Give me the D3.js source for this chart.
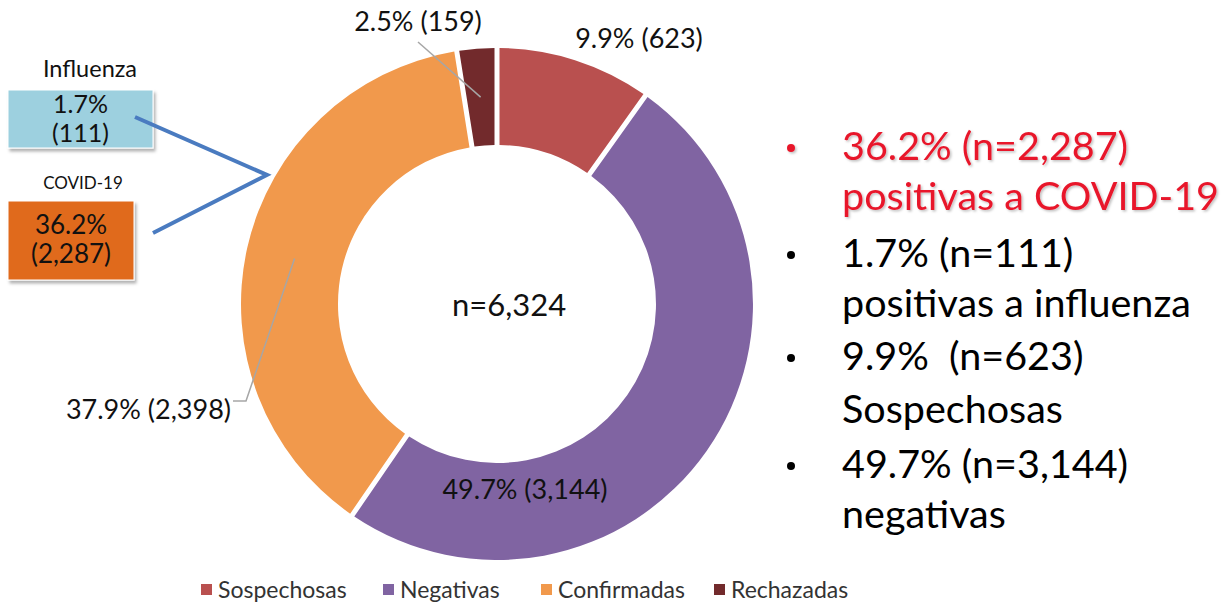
<!DOCTYPE html>
<html lang="es">
<head>
<meta charset="UTF-8" />
<title>Resultados de muestras</title>
<script src="https://cdn.jsdelivr.net/npm/d3@7"></script>
<style>
  body { margin: 0; background: #fff; }
  text { font-family: Lato, "Open Sans", sans-serif; white-space: pre; }
</style>
</head>
<body>
<svg id="chart" width="1223" height="604"></svg>
<script>
  // data
  const categories = ["Sospechosas", "Negativas", "Confirmadas", "Rechazadas"];
  const counts = [623, 3144, 2398, 159];
  const colors = ["#B9504F", "#8064A2", "#F1994C", "#722A2C"];

  // the two positive groups inside "Confirmadas"
  const subNames = ["Influenza", "COVID-19"];
  const subPct = ["1.7%", "36.2%"];
  const subCounts = [111, 2287];

  // bullet text on the right
  const bulletLines = [
    ["36.2% (n=2,287)", "positivas a COVID-19"],
    ["1.7% (n=111)", "positivas a influenza"],
    ["9.9%  (n=623)", "Sospechosas"],
    ["49.7% (n=3,144)", "negativas"]
  ];
  const bulletColors = ["#E8192C", "#000", "#000", "#000"];

  const cx = 497, cy = 304, rOut = 256, rIn = 159;
  const fmtPct = d3.format(".1%"), fmtN = d3.format(",");
  const total = d3.sum(counts);

  const svg = d3.select("#chart");
  const defs = svg.append("defs");
  defs.append("filter").attr("id", "shadow")
    .attr("x", "-10%").attr("y", "-10%").attr("width", "130%").attr("height", "130%")
    .append("feDropShadow").attr("dx", 2).attr("dy", 3).attr("stdDeviation", 1.5)
    .attr("flood-color", "#000").attr("flood-opacity", 0.3);
  defs.append("filter").attr("id", "tshadow")
    .append("feDropShadow").attr("dx", 1.5).attr("dy", 1.5).attr("stdDeviation", 1)
    .attr("flood-color", "#000").attr("flood-opacity", 0.25);

  const data = categories.map((c, i) => ({ name: c, value: counts[i], color: colors[i] }));
  const pie = d3.pie().sort(null).value(d => d.value);
  const arcs = pie(data);
  const arc = d3.arc().innerRadius(rIn).outerRadius(rOut)
    .padRadius(rOut).padAngle(5 / rOut);

  const g = svg.append("g").attr("transform", `translate(${cx},${cy})`);
  g.selectAll("path.slice").data(arcs).enter().append("path")
    .attr("class", "slice")
    .attr("d", arc)
    .attr("fill", d => d.data.color);

  // centre total
  g.append("text").attr("text-anchor", "middle").attr("x", 12).attr("y", 12)
    .style("font-size", "31px").attr("fill", "#111")
    .text("n=" + fmtN(total));

  // data labels (offset from centre; leader from the slice centroid)
  const labelPos = [
    { x: 142, y: -256 },
    { x: 28, y: 195 },
    { x: -266, y: 115, anchor: "end", leader: [[-264, 97], [-251, 97]] },
    { x: -79, y: -273, leader: [[-79, -262]] }
  ];
  arcs.forEach((a, i) => {
    const p = labelPos[i];
    const txt = fmtPct(a.data.value / total) + " (" + fmtN(a.data.value) + ")";
    g.append("text")
      .attr("x", p.x).attr("y", p.y)
      .attr("text-anchor", p.anchor || "middle")
      .style("font-size", "27px").attr("fill", "#111")
      .text(txt);
    if (p.leader) {
      g.append("path")
        .attr("d", d3.line()(p.leader.concat([arc.centroid(a)])))
        .attr("fill", "none").attr("stroke", "#A6A6A6").attr("stroke-width", 1.5);
    }
  });

  // boxes on the left
  const boxes = [
    { x: 8, y: 90, w: 145, h: 58, fill: "#9DD0DF", tx: 90, ty: 77, tsize: 23.5, fsize: 25, b1: 113, b2: 142 },
    { x: 8, y: 201, w: 126, h: 79, fill: "#E06B1E", tx: 83, ty: 189, tsize: 17, fsize: 26, b1: 234, b2: 263 }
  ];
  subNames.forEach((nm, i) => {
    const b = boxes[i];
    svg.append("text").attr("x", b.tx).attr("y", b.ty)
      .attr("text-anchor", "middle").style("font-size", b.tsize + "px").attr("fill", "#111")
      .text(nm);
    svg.append("rect").attr("x", b.x).attr("y", b.y).attr("width", b.w).attr("height", b.h)
      .attr("fill", b.fill).attr("stroke", "#fff").attr("stroke-width", 1)
      .attr("filter", "url(#shadow)");
    const mid = b.x + b.w / 2;
    svg.append("text").attr("x", mid).attr("y", b.b1).attr("text-anchor", "middle")
      .style("font-size", b.fsize + "px").attr("fill", "#111").text(subPct[i]);
    svg.append("text").attr("x", mid).attr("y", b.b2).attr("text-anchor", "middle")
      .style("font-size", b.fsize + "px").attr("fill", "#111").text("(" + fmtN(subCounts[i]) + ")");
  });

  // blue connector
  svg.append("path")
    .attr("d", d3.line()([[135, 117], [267, 175], [153, 233]]))
    .attr("fill", "none").attr("stroke", "#4A7BC0").attr("stroke-width", 4);

  // bullets on the right
  const bx = 791, tx0 = 842;
  const baselines = [[160, 210], [267, 317], [370, 423], [478, 528]];
  bulletLines.forEach((lines, i) => {
    const col = bulletColors[i];
    const gg = svg.append("g").attr("filter", i === 0 ? "url(#tshadow)" : null);
    gg.append("circle").attr("cx", bx).attr("cy", baselines[i][0] - 12).attr("r", 4).attr("fill", col);
    lines.forEach((ln, j) => {
      gg.append("text").attr("x", tx0).attr("y", baselines[i][j])
        .style("font-size", "39.5px").attr("fill", col).text(ln);
    });
  });

  // legend
  const legX = [201, 383, 541, 714];
  const leg = svg.append("g");
  categories.forEach((c, i) => {
    leg.append("rect").attr("x", legX[i]).attr("y", 584).attr("width", 11).attr("height", 11)
      .attr("fill", colors[i]);
    leg.append("text").attr("x", legX[i] + 17).attr("y", 598)
      .style("font-size", "23px").attr("fill", "#333").text(c);
  });
</script>
</body>
</html>
